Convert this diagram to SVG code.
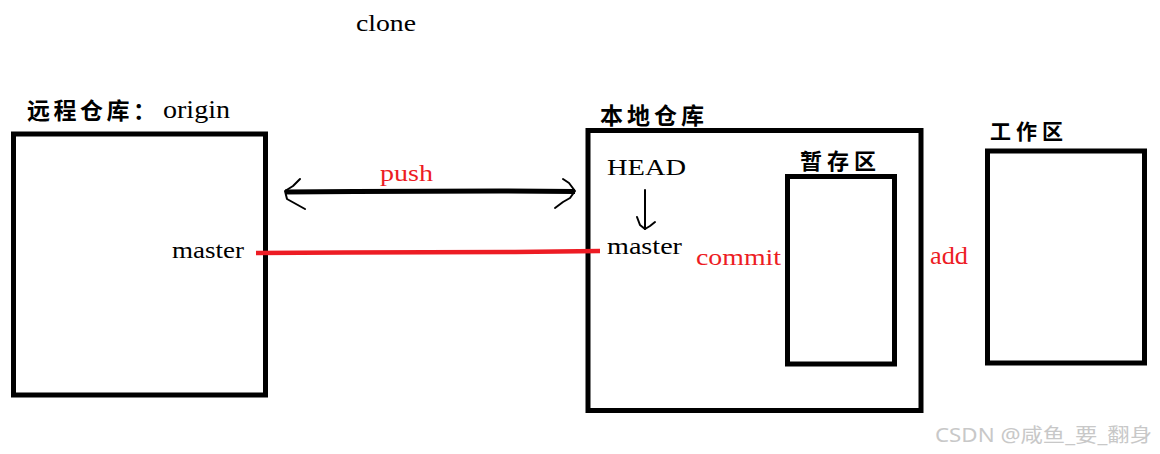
<svg xmlns="http://www.w3.org/2000/svg" width="1160" height="454" viewBox="0 0 1160 454">
<style>
.box{fill:none;stroke:#000;stroke-width:5}
.lat{font-family:"Liberation Serif","Times New Roman",serif;fill:#000}
.red{fill:#ed1c24}
.cjk{font-family:"Noto Sans CJK SC","Noto Sans CJK JP",sans-serif;font-weight:bold;fill:#000}
.hand{fill:none;stroke:#000;stroke-width:2;stroke-linecap:round;stroke-linejoin:round}
</style>
<rect width="1160" height="454" fill="#fff"/>
<text class="lat" x="356" y="31" font-size="24" textLength="60" lengthAdjust="spacingAndGlyphs">clone</text>
<g id="remote">
<rect class="box" x="13.5" y="134" width="252" height="261"/>
<text class="cjk" x="27" y="119" font-size="23" letter-spacing="3.5">远程仓库：</text>
<text class="lat" x="163" y="118" font-size="25" textLength="67" lengthAdjust="spacingAndGlyphs">origin</text>
<text class="lat" x="172" y="258" font-size="23" textLength="72" lengthAdjust="spacingAndGlyphs">master</text>
</g>
<g id="local">
<rect class="box" x="588" y="130.5" width="333" height="280"/>
<text class="cjk" x="600" y="124" font-size="23" letter-spacing="4">本地仓库</text>
<text class="lat" x="607" y="175" font-size="24" textLength="79" lengthAdjust="spacingAndGlyphs">HEAD</text>
<text class="lat" x="607" y="254" font-size="23" textLength="75" lengthAdjust="spacingAndGlyphs">master</text>
</g>
<g id="stage">
<rect class="box" x="787.5" y="176.5" width="107" height="187.5"/>
<text class="cjk" x="800" y="169" font-size="22" letter-spacing="5">暂存区</text>
</g>
<g id="work">
<rect class="box" x="987.5" y="151" width="157" height="212"/>
<text class="cjk" x="990" y="139" font-size="21" letter-spacing="5">工作区</text>
</g>
<g id="connectors">
<path d="M256 253 L345 252.5 L515 252 L600 251" fill="none" stroke="#ed1c24" stroke-width="4.5"/>
<path d="M285 192 L355 191.5 L500 191 L575 191.5" fill="none" stroke="#000" stroke-width="5"/>
<path class="hand" d="M300 179 L293 186 L285 191 L287 199 L296 204 L305 209"/>
<path class="hand" d="M563 179 L569 183 L575 191 L570 198 L563 202 L555 208"/>
<path class="hand" d="M645 190 L645 229"/>
<path class="hand" d="M637 217 L640 225 L645 229 L650 226 L655 222"/>
<text class="lat red" x="380" y="181" font-size="24" textLength="53" lengthAdjust="spacingAndGlyphs">push</text>
<text class="lat red" x="696" y="265" font-size="24" textLength="85" lengthAdjust="spacingAndGlyphs">commit</text>
<text class="lat red" x="930" y="264" font-size="25" textLength="38" lengthAdjust="spacingAndGlyphs">add</text>
</g>
<text x="935" y="442" font-family="'Noto Sans','Noto Sans CJK SC',sans-serif" font-size="19" fill="#c8c8c8" textLength="217" lengthAdjust="spacingAndGlyphs">CSDN @咸鱼_要_翻身</text>
</svg>
